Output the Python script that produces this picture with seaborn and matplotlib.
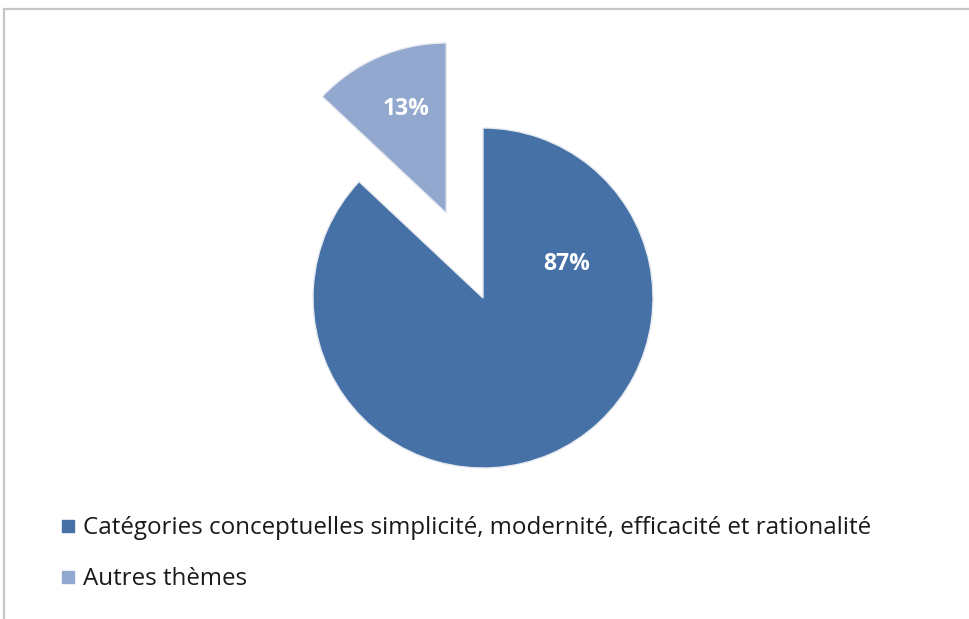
import matplotlib
matplotlib.use("Agg")
import matplotlib.pyplot as plt
from matplotlib.lines import Line2D
from matplotlib.patches import Rectangle
import seaborn as sns

# ---- data ----
categories = ["Catégories conceptuelles simplicité, modernité, efficacité et rationalité",
              "Autres thèmes"]
values = [87, 13]
colors = ["#4571A6", "#93A8CF"]
explode = [0.0, 0.545]

sns.set_theme(style="white")
plt.rcParams['font.family'] = ['Open Sans', 'DejaVu Sans']

W, H = 970, 619
fig = plt.figure(figsize=(W / 100, H / 100), dpi=100)
fig.patch.set_facecolor("white")
ax = fig.add_axes([0, 0, 1, 1])

# pie: 87% slice clockwise from top, 13% slice ends at top (exploded)
wedges, texts, autotexts = ax.pie(
    values, colors=colors, explode=explode, startangle=90, counterclock=False,
    autopct="%d%%", pctdistance=0.6,
    wedgeprops=dict(edgecolor="#e6e9f0", linewidth=1.0),
    textprops=dict(color="white", fontsize=16.5, fontweight="bold"))

# label positions (in radius units relative to main centre)
autotexts[0].set_position((0.49, 0.20))
autotexts[1].set_position((-0.45, 1.11))

# map axes so radius=1 -> 170px, centre at (483, 298) in image pixels
r = 170.0
cx, cy = 483.0, H - 298.0
ax.set_aspect("auto")
ax.set_xlim(-cx / r, (W - cx) / r)
ax.set_ylim(-cy / r, (H - cy) / r)
ax.axis("off")

# legend
handles = [Line2D([], [], marker="s", linestyle="", color=c, markersize=8) for c in colors]
fig.legend(handles, categories, loc="upper left", bbox_to_anchor=(58.5 / W, (H - 516) / H),
           frameon=False, fontsize=17.4, handlelength=0.78, handletextpad=0.24,
           labelspacing=1.13, borderpad=0, borderaxespad=0, labelcolor="#1a1a1a")

# chart frame (top and left lines visible)
fig.patches.append(Rectangle((4.5 / W, -0.5), 2, 0.5 + (H - 9) / H, transform=fig.transFigure,
                             fill=False, edgecolor="#c6c6c6", linewidth=1.6))

fig.savefig("out.png", dpi=100)
